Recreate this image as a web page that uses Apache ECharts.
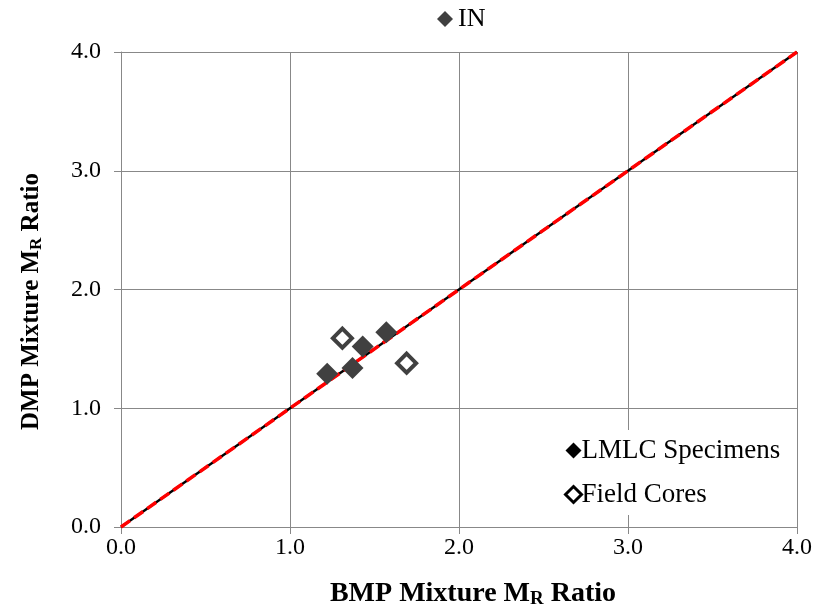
<!DOCTYPE html>
<html>
<head>
<meta charset="utf-8">
<script src="https://cdn.jsdelivr.net/npm/echarts@6/dist/echarts.min.js"></script>
<style>html,body{margin:0;padding:0;background:#fff}#c{width:829px;height:614px}</style>
</head>
<body>
<div id="c"></div>
<script>
var xTicks = [0, 1, 2, 3, 4];
var lmlcX = [1.22, 1.37, 1.43, 1.57];
var lmlcY = [1.29, 1.34, 1.52, 1.64];
var coresX = [1.31, 1.69];
var coresY = [1.59, 1.38];
var lineX = [0, 4];
var lineY = [0, 4];

function pairs(a, b) { return a.map(function (v, i) { return [v, b[i]]; }); }

var chart = echarts.init(document.getElementById('c'));
var font = '"Liberation Serif", "Times New Roman", serif';
function axisName(size, pad) {
  return {
    fontFamily: font, color: '#000', padding: pad,
    rich: {
      b: { fontFamily: font, fontSize: size, fontWeight: 'bold', color: '#000' },
      s: { fontFamily: font, fontSize: Math.round(size * 0.68), fontWeight: 'bold', color: '#000', verticalAlign: 'bottom', padding: [Math.round(size * 0.4), 0, 0, 0] }
    }
  };
}
var axisCommon = {
  type: 'value', min: 0, max: 4, interval: 1,
  axisLine: { show: true, lineStyle: { color: '#888', width: 1 } },
  axisTick: { show: true, length: 7, lineStyle: { color: '#888' } },
  splitLine: { show: true, lineStyle: { color: '#888', width: 1 } },
  nameLocation: 'middle'
};
var labelStyle = { fontFamily: font, fontSize: 24, color: '#000', formatter: function (v) { return v.toFixed(1); } };
var option = {
  animation: false,
  backgroundColor: '#fff',
  grid: { left: 121, right: 32, top: 52, bottom: 87 },
  xAxis: Object.assign({}, axisCommon, {
    name: '{b|BMP Mixture M}{s|R}{b| Ratio}', nameGap: 52, nameTextStyle: axisName(28, [0, 0, 0, 28]),
    axisLabel: Object.assign({}, labelStyle, { margin: 9 })
  }),
  yAxis: Object.assign({}, axisCommon, {
    name: '{b|DMP Mixture M}{s|R}{b| Ratio}', nameGap: 76, nameTextStyle: axisName(25, [0, 24, 0, 0]),
    axisLabel: Object.assign({}, labelStyle, { margin: 20 })
  }),
  legend: [
    {
      data: ['IN'], top: 6, left: 437, itemWidth: 16, itemHeight: 16, itemGap: 4, padding: 0,
      textStyle: { fontFamily: font, fontSize: 26, color: '#000', padding: [0, 0, 0, 0] }
    },
    {
      data: [
        { name: 'LMLC Specimens', icon: 'diamond', itemStyle: { color: '#000' } },
        { name: 'Field Cores', icon: 'diamond', itemStyle: { color: '#fff', borderColor: '#000', borderWidth: 3 } }
      ],
      orient: 'vertical', left: 556, top: 430, itemWidth: 16, itemHeight: 16, itemGap: 17,
      padding: [7, 14, 7, 8],
      backgroundColor: '#fff',
      textStyle: { fontFamily: font, fontSize: 27, color: '#000', padding: [0, 0, 0, -5] }
    }
  ],
  series: [
    { name: 'IN', type: 'scatter', symbol: 'diamond', data: [], itemStyle: { color: '#404040', opacity: 1 } },
    {
      name: 'line1', type: 'line', data: pairs(lineX, lineY), symbol: 'none', z: 1,
      lineStyle: { color: '#000', width: 2.5 }
    },
    {
      name: 'line2', type: 'line', data: pairs(lineX, lineY), symbol: 'none', z: 2,
      lineStyle: { color: '#ff0000', width: 3.5, type: [11, 5] }
    },
    {
      name: 'LMLC Specimens', type: 'scatter', symbol: 'diamond', symbolSize: 22, z: 5,
      data: pairs(lmlcX, lmlcY), itemStyle: { color: '#404040', opacity: 1 }
    },
    {
      name: 'Field Cores', type: 'scatter', symbol: 'diamond', symbolSize: 19, z: 5,
      data: pairs(coresX, coresY), itemStyle: { color: '#fff', borderColor: '#404040', borderWidth: 4, opacity: 1 }
    }
  ]
};
chart.setOption(option);
</script>
</body>
</html>
